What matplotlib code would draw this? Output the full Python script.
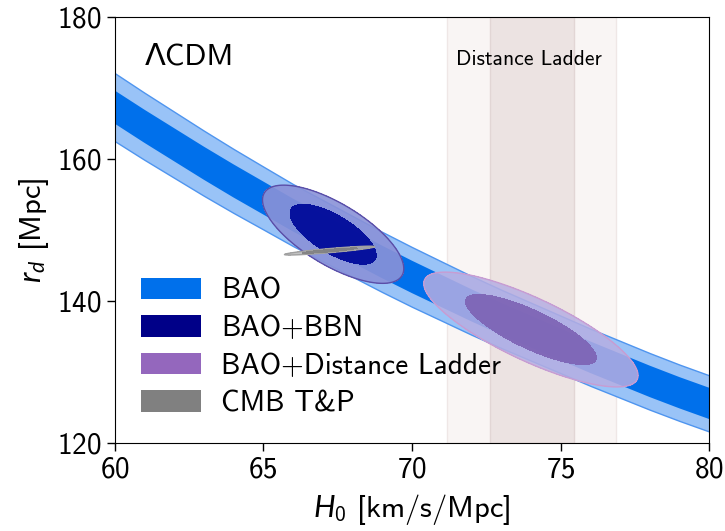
import numpy as np
import matplotlib
matplotlib.use('Agg')
import matplotlib.pyplot as plt
from matplotlib.patches import Patch

plt.rcParams['font.family'] = ['cmss10', 'DejaVu Sans']
plt.rcParams['mathtext.fontset'] = 'custom'
plt.rcParams['mathtext.rm'] = 'cmss10'
plt.rcParams['mathtext.it'] = 'Lato:italic'
plt.rcParams['axes.unicode_minus'] = False
plt.rcParams['axes.formatter.use_mathtext'] = True

# BAO band (centre and half widths of 1 and 2 sigma)
h0_grid = [60, 61, 62, 63, 64, 65, 66, 67, 68, 69, 70,
           71, 72, 73, 74, 75, 76, 77, 78, 79, 80]
rd_centre = [167.3, 164.6, 162.0, 159.4, 156.9, 154.5, 152.1, 149.9, 147.7, 145.5, 143.4,
             141.4, 139.4, 137.5, 135.7, 133.9, 132.1, 130.4, 128.7, 127.1, 125.6]
half_1sig = [2.33, 2.33, 2.33, 2.33, 2.33, 2.32, 2.31, 2.30, 2.30, 2.29, 2.28,
             2.27, 2.26, 2.25, 2.24, 2.23, 2.22, 2.21, 2.21, 2.20, 2.20]
half_2sig = [4.78, 4.72, 4.65, 4.58, 4.50, 4.42, 4.36, 4.31, 4.27, 4.23, 4.20,
             4.16, 4.13, 4.10, 4.07, 4.04, 4.02, 4.00, 3.98, 3.96, 3.95]

# distance ladder H0
h0_ladder = 74.03
h0_ladder_err = 1.42

# gaussian contours: centre H0, centre rd, sigma H0, sigma rd, correlation
bbn = [67.35, 149.4, 0.956, 2.78, -0.70]
ladder = [74.0, 136.0, 1.45, 3.25, -0.80]
cmb = [67.23, 147.1, 0.61, 0.25, 0.89]

labels = ['BAO', 'BAO+BBN', 'BAO+Distance Ladder', 'CMB T&P']
legend_colors = ['#0070eb', '#000088', '#9467bd', '#808080']

fig = plt.figure(figsize=(7.25, 5.31), dpi=100)
ax = fig.add_axes([0.158, 0.1652, 0.8204, 0.8034])

# distance ladder vertical bands
ax.axvspan(h0_ladder - 2 * h0_ladder_err, h0_ladder + 2 * h0_ladder_err,
           facecolor='#f9f5f4', edgecolor='#efe7e6', lw=1, zorder=0)
ax.axvspan(h0_ladder - h0_ladder_err, h0_ladder + h0_ladder_err,
           facecolor='#ece3e2', edgecolor='#e2d6d5', lw=1, zorder=0)
ax.text(h0_ladder - 0.1, 174.0, 'Distance Ladder', fontsize=15.5,
        ha='center', va='center', zorder=5)

# BAO band
x = np.array(h0_grid)
c = np.array(rd_centre)
ax.fill_between(x, c - np.array(half_2sig), c + np.array(half_2sig),
                facecolor='#99c3f7', edgecolor='#4f95ef', lw=1, zorder=1)
ax.fill_between(x, c - np.array(half_1sig), c + np.array(half_1sig),
                facecolor='#0070eb', edgecolor='none', zorder=1.5)


def gauss_contour(p, outer_col, outer_alpha, inner_col, inner_alpha, edge_col, z):
    mx, my, sx, sy, rho = p
    gx = np.linspace(mx - 4 * sx, mx + 4 * sx, 500)
    gy = np.linspace(my - 4 * sy, my + 4 * sy, 500)
    X, Y = np.meshgrid(gx, gy)
    dx = (X - mx) / sx
    dy = (Y - my) / sy
    chi2 = (dx ** 2 - 2 * rho * dx * dy + dy ** 2) / (1 - rho ** 2)
    ax.contourf(X, Y, chi2, levels=[0, 6.17], colors=[outer_col],
                alpha=outer_alpha, zorder=z)
    ax.contour(X, Y, chi2, levels=[6.17], colors=[edge_col],
               linewidths=1, zorder=z + 0.05)
    ax.contourf(X, Y, chi2, levels=[0, 2.30], colors=[inner_col],
                alpha=inner_alpha, zorder=z + 0.1)


gauss_contour(bbn, '#8a92d8', 0.9, '#000a9a', 0.95, '#5a4ea8', 2)
gauss_contour(ladder, '#b6aee2', 0.85, '#7c62b4', 0.9, '#c89cd2', 2)
gauss_contour(cmb, '#b8b8b8', 0.85, '#7f7f7f', 0.9, '#a0a0a0', 3)

ax.text(0.051, 0.9055, 'ΛCDM', transform=ax.transAxes, fontsize=22,
        ha='left', va='center')

handles = [Patch(facecolor=col, edgecolor='none') for col in legend_colors]
ax.legend(handles, labels, loc='lower left', frameon=False, fontsize=21,
          handlelength=2.05, handleheight=0.75, handletextpad=0.7,
          labelspacing=0.36, borderaxespad=0.6, borderpad=0.3)

ax.set_xlim(60, 80)
ax.set_ylim(120, 180)
ax.set_xticks([60, 65, 70, 75, 80])
ax.set_yticks([120, 140, 160, 180])
ax.tick_params(labelsize=21, direction='out', length=6, width=1)
ax.set_xlabel(r'$H_0$ [km/s/Mpc]', fontsize=22, labelpad=6)
ax.set_ylabel(r'$r_d$ [Mpc]', fontsize=22, labelpad=4)

fig.savefig('out.png', dpi=100)
